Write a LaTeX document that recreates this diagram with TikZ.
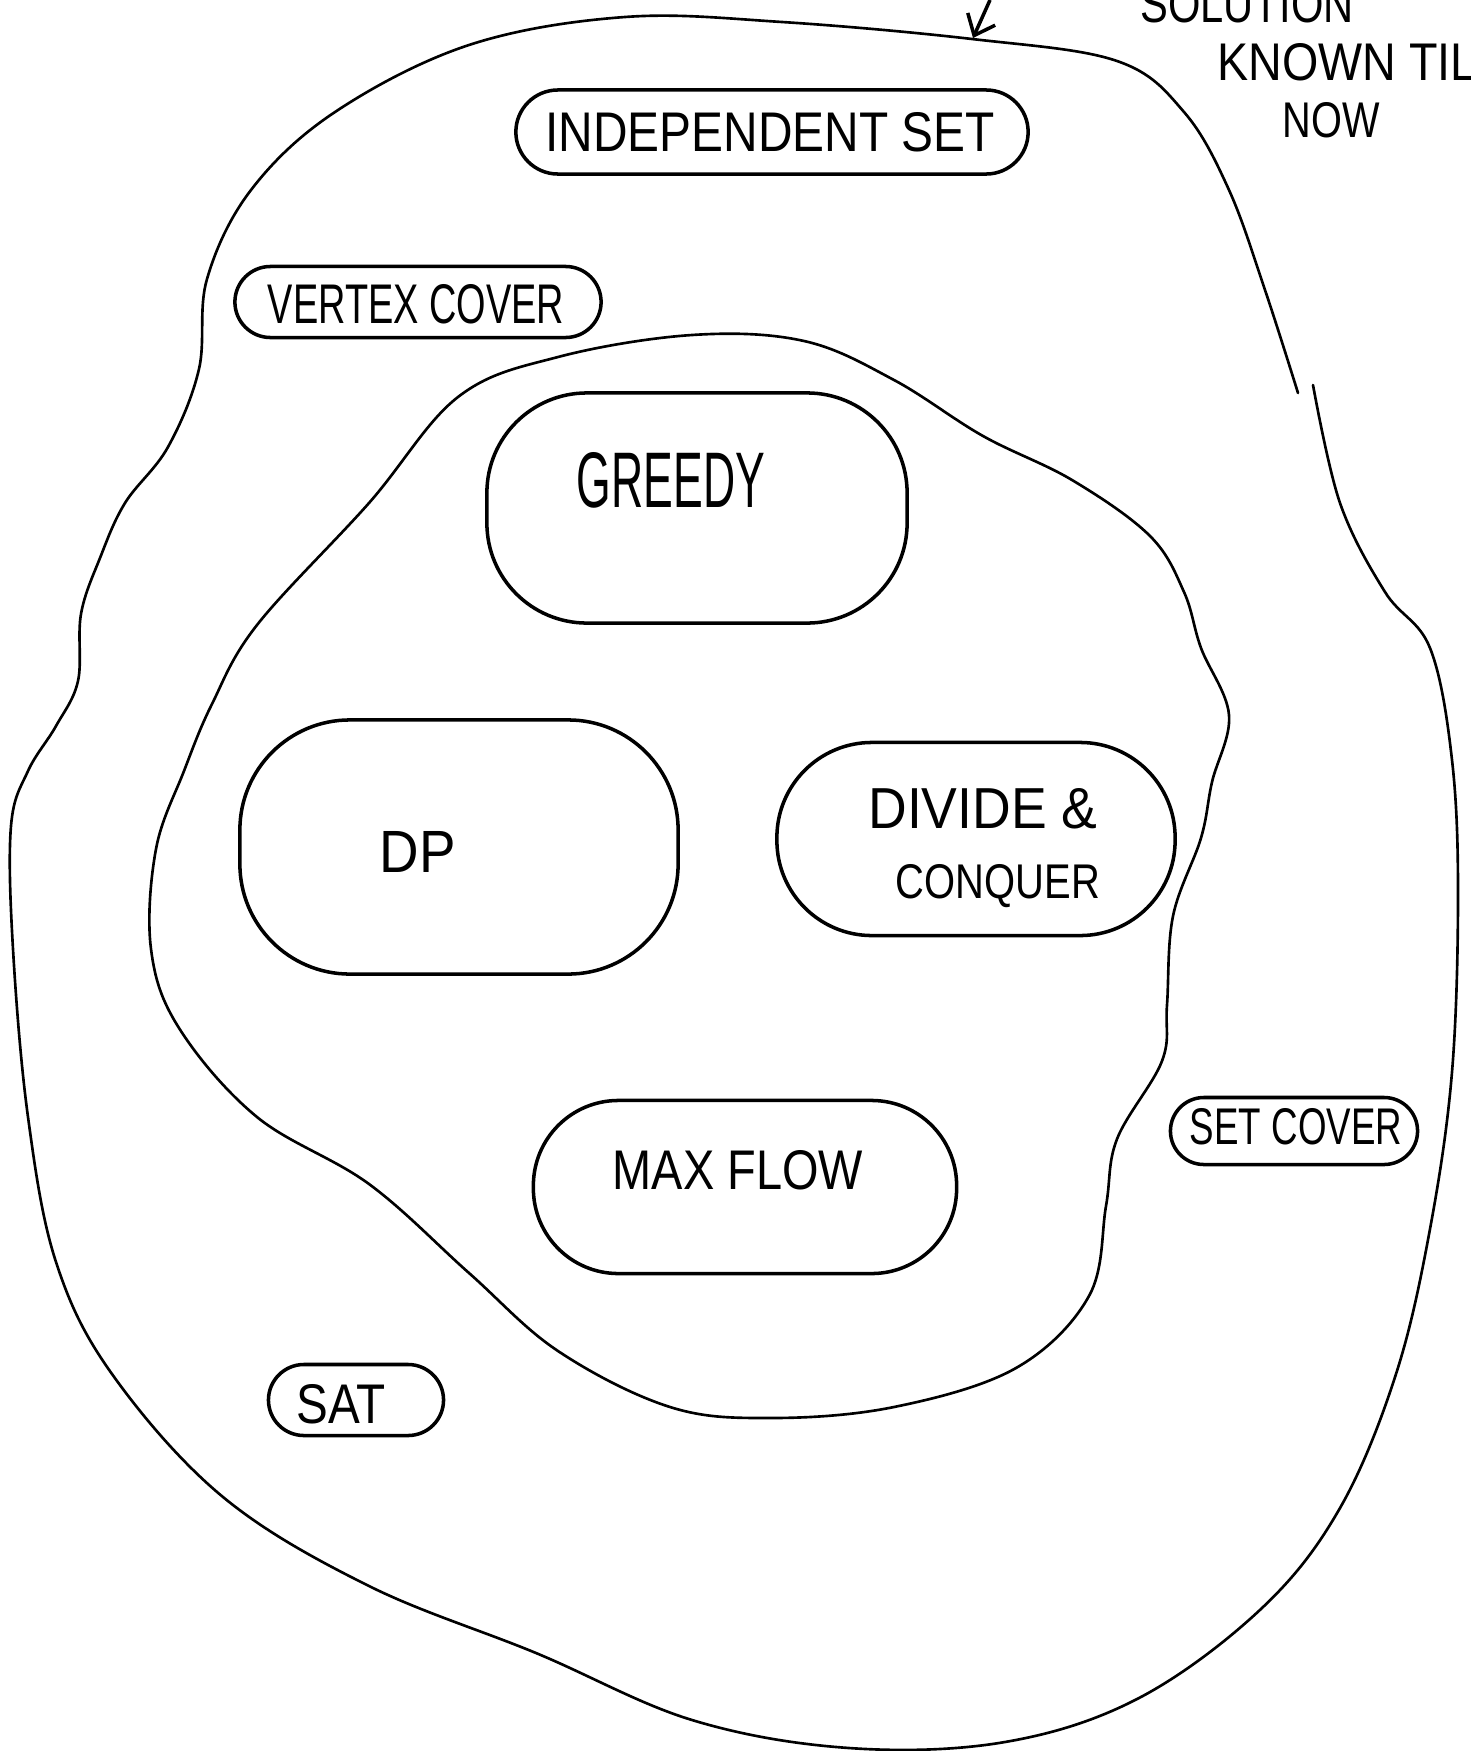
\documentclass[tikz,border=0pt]{standalone}
\usepackage{fontspec}
\setmainfont{Liberation Sans}
\usetikzlibrary{shapes.misc,arrows.meta}
\newcommand{\fitt}[3]{\resizebox{#1}{#2}{#3}}
\begin{document}
\begin{tikzpicture}[x=0.01cm,y=-0.01cm,
  blob/.style={line width=0.75pt, line join=round, line cap=round},
  pill/.style={draw, rounded rectangle, line width=1pt, inner sep=0pt},
  roundbox/.style={draw, rectangle, line width=1pt, inner sep=0pt, rounded corners=#1},
  roundbox/.default=0.9cm,
  lbl/.style={inner sep=0pt}]
\useasboundingbox (0,0) rectangle (1471,1751);
\fill[white] (0,0) rectangle (1471,1751);

% outer region (open at the right)
\draw[blob] plot[smooth, tension=0.6] coordinates {(1313,385) (1340,503) (1385,592) (1430,648) (1452,760) (1458,894) (1452,1072) (1430,1229) (1396,1374) (1340,1508) (1262,1608) (1139,1698) (1005,1742) (849,1748) (692,1720) (536,1653) (369,1586) (223,1497) (112,1374) (56,1262) (28,1117) (13,949) (11,826) (28,771) (56,726) (78,681) (81,614) (100,558) (125,503) (168,447) (199,369) (207,279) (251,190) (335,112) (469,45) (625,17) (782,22) (972,39) (1117,61) (1184,112) (1229,190) (1265,290) (1298,393)};

% inner region
\draw[blob] plot[smooth cycle, tension=0.6] coordinates {(458,397) (558,357) (692,335) (804,341) (894,380) (983,436) (1072,480) (1150,536) (1184,592) (1201,648) (1229,715) (1212,782) (1201,838) (1173,916) (1167,1005) (1162,1061) (1117,1139) (1106,1206) (1089,1296) (1016,1368) (894,1407) (771,1418) (670,1407) (558,1351) (469,1273) (369,1184) (257,1117) (179,1028) (151,949) (156,849) (184,771) (212,704) (257,625) (369,503)};

% boxes
\node[pill, minimum width=5.12cm, minimum height=0.84cm] (ind) at (772,132) {};
\node[pill, minimum width=3.66cm, minimum height=0.71cm] (vc) at (418,302) {};
\node[roundbox=1cm, minimum width=4.2cm, minimum height=2.3cm] (greedy) at (697,508) {};
\node[roundbox=1.1cm, minimum width=4.38cm, minimum height=2.54cm] (dp) at (459,847) {};
\node[roundbox=0.95cm, minimum width=3.98cm, minimum height=1.93cm] (dc) at (976,839) {};
\node[roundbox=0.85cm, minimum width=4.23cm, minimum height=1.73cm] (mf) at (745,1187) {};
\node[pill, minimum width=2.47cm, minimum height=0.67cm] (sc) at (1294,1131) {};
\node[pill, minimum width=1.75cm, minimum height=0.71cm] (sat) at (356,1400) {};

% labels
\node[lbl] (indT) at (770,132) {\fitt{4.49cm}{0.39cm}{INDEPENDENT SET}};
\node[lbl] (vcT) at (416,304) {\fitt{2.96cm}{0.39cm}{VERTEX COVER}};
\node[lbl] (greedyT) at (671,480) {\fitt{1.88cm}{0.55cm}{GREEDY}};
\node[lbl] (dpT) at (418,852) {\fitt{0.76cm}{0.41cm}{DP}};
\node[lbl] (dcT1) at (983,809) {\fitt{2.29cm}{0.40cm}{DIVIDE \&}};
\node[lbl] (dcT2) at (998,886) {\fitt{2.04cm}{0.34cm}{CONQUER}};
\node[lbl] (mfT) at (738,1170) {\fitt{2.5cm}{0.39cm}{MAX FLOW}};
\node[lbl] (scT) at (1296,1127) {\fitt{2.12cm}{0.36cm}{SET COVER}};
\node[lbl] (satT) at (341,1404) {\fitt{0.89cm}{0.39cm}{SAT}};

% annotation
\node[lbl] (solT) at (1247,4) {\fitt{2.13cm}{0.37cm}{SOLUTION}};
\node[lbl, anchor=west] (knownT) at (1217,62) {\fitt{2.85cm}{0.37cm}{KNOWN TILL}};
\node[lbl] (nowT) at (1331,120) {\fitt{0.97cm}{0.35cm}{NOW}};
\coordinate (arrS) at (990,0);
\coordinate (arrE) at (973,38);
\draw[line width=1pt, -{Straight Barb[length=0.18cm, width=0.3cm]}] (arrS) -- (arrE);
\end{tikzpicture}
\end{document}
